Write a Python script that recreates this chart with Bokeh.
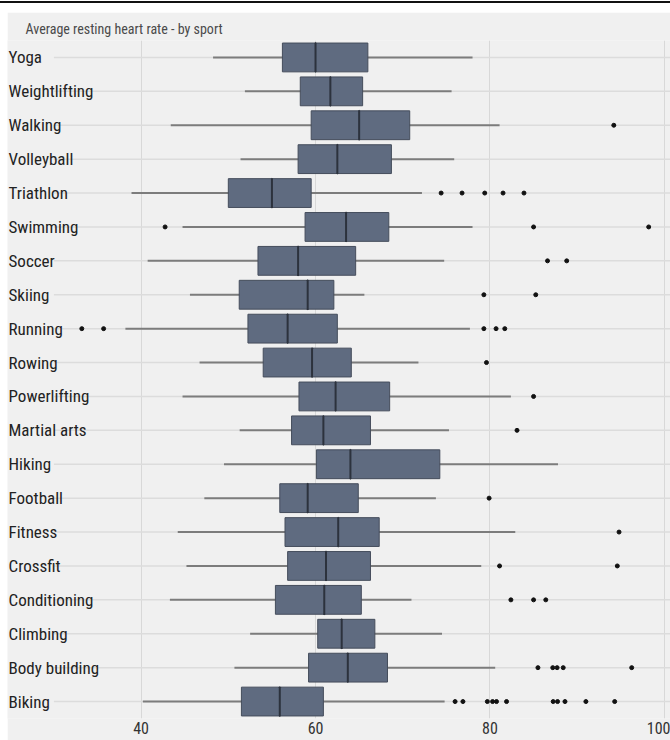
from bokeh.plotting import figure
from bokeh.models import (ColumnDataSource, FactorRange, Range1d, FixedTicker,
                          LabelSet, Div)
from bokeh.core.properties import value
from bokeh.layouts import column
from bokeh.embed import file_html
from bokeh.resources import INLINE

# Sports, listed bottom-to-top on the chart
sports = ["Biking", "Body building", "Climbing", "Conditioning", "Crossfit",
          "Fitness", "Football", "Hiking", "Martial arts", "Powerlifting",
          "Rowing", "Running", "Skiing", "Soccer", "Swimming", "Triathlon",
          "Volleyball", "Walking", "Weightlifting", "Yoga"]

# Five-number summaries (bpm)
whisker_low = [40.2, 50.7, 52.5, 43.3, 45.2, 44.2, 47.25, 49.5, 51.3, 44.75,
               46.7, 38.2, 45.6, 40.75, 44.75, 38.9, 51.4, 43.4, 51.9, 48.25]
q1 = [51.5, 59.2, 60.25, 55.4, 56.8, 56.5, 55.9, 60.1, 57.25, 58.1,
      54.0, 52.25, 51.25, 53.4, 58.8, 50.0, 58.0, 59.5, 58.25, 56.2]
median = [55.9, 63.7, 63.0, 61.0, 61.2, 62.6, 59.1, 64.0, 60.9, 62.3,
          59.6, 56.8, 59.1, 58.0, 63.5, 55.0, 62.5, 65.0, 61.7, 60.0]
q3 = [60.9, 68.25, 66.8, 65.25, 66.3, 67.3, 64.9, 74.25, 66.3, 68.5,
      64.1, 62.5, 62.1, 64.6, 68.4, 59.5, 68.7, 70.8, 65.4, 66.0]
whisker_high = [74.8, 80.6, 74.5, 71.0, 79.0, 82.9, 73.8, 87.8, 75.3, 82.4,
                71.8, 77.7, 65.6, 74.75, 78.0, 72.2, 75.9, 81.1, 75.6, 78.0]

# Outlying observations
outlier_sport = (["Biking"] * 11 + ["Body building"] * 5 + ["Conditioning"] * 3
                 + ["Crossfit"] * 2 + ["Fitness", "Football", "Martial arts",
                                       "Powerlifting", "Rowing"]
                 + ["Running"] * 5 + ["Skiing"] * 2 + ["Soccer"] * 2
                 + ["Swimming"] * 3 + ["Triathlon"] * 5 + ["Walking"])
outlier_value = ([76.0, 76.9, 79.7, 80.3, 80.75, 81.9, 87.25, 87.75, 88.6, 91.0, 94.3]
                 + [85.5, 87.2, 87.7, 88.4, 96.25]
                 + [82.4, 85.0, 86.4]
                 + [81.1, 94.6]
                 + [94.8, 79.9, 83.1, 85.0, 79.6]
                 + [33.2, 35.7, 79.3, 80.7, 81.7]
                 + [79.3, 85.25]
                 + [86.6, 88.8]
                 + [42.75, 85.0, 98.2]
                 + [74.4, 76.8, 79.4, 81.5, 83.9]
                 + [94.2])

x_ticks = [40, 60, 80, 100]

FONT = "Liberation Sans Narrow, Roboto Condensed, Arial Narrow, sans-serif"
BG = "#f0f0f0"

# the plotting area starts at the panel's left edge so the sport names
# can sit inside it; row rules begin at x = 30
X_START, GRID_START, X_END = 24.68, 30, 100.7

src = ColumnDataSource(dict(sport=sports, lo=whisker_low, q1=q1, med=median,
                            q3=q3, hi=whisker_high,
                            g0=[GRID_START] * len(sports),
                            g1=[X_END] * len(sports),
                            lx=[X_START + 0.12] * len(sports)))
out_src = ColumnDataSource(dict(sport=outlier_sport, value=outlier_value))

p = figure(width=663, height=728, output_backend="svg", toolbar_location=None,
           y_range=FactorRange(*sports, range_padding=0),
           x_range=Range1d(X_START, X_END),
           min_border_left=0, min_border_right=0, min_border_top=28,
           min_border_bottom=22, margin=(9, 0, 0, 7))
p.background_fill_color = BG
p.border_fill_color = BG
p.outline_line_color = None

# row rules
p.segment(x0="g0", y0="sport", x1="g1", y1="sport", source=src,
          line_color="#dcdcdc", line_width=1.5)
# whiskers (behind the boxes)
p.segment(x0="lo", y0="sport", x1="hi", y1="sport", source=src,
          line_color="#7c7c7c", line_width=2)
# boxes
p.hbar(y="sport", left="q1", right="q3", height=0.85, source=src,
       fill_color="#5f6b80", line_color="#454d5c", line_width=1)
# medians
p.rect(x="med", y="sport", width=0.001, height=0.85, source=src,
       line_color="#2c323d", line_width=2, fill_color=None)
# outliers
p.scatter(x="value", y="sport", source=out_src, size=4, color="#111111")

# axes
p.yaxis.visible = False
p.ygrid.grid_line_color = None
p.xaxis.ticker = FixedTicker(ticks=x_ticks)
p.xaxis.axis_line_color = None
p.xaxis.major_tick_line_color = None
p.xaxis.minor_tick_line_color = None
p.xaxis.major_tick_out = 0
p.xaxis.major_tick_in = 0
p.xaxis.major_label_standoff = 3
p.xaxis.major_label_text_font = FONT
p.xaxis.major_label_text_font_size = "16px"
p.xaxis.major_label_text_color = "#333333"

p.xgrid.grid_line_color = "#d8d8d8"
p.xgrid.grid_line_width = 1

# sport names at the left edge
p.add_layout(LabelSet(x="lx", y="sport", text="sport", source=src,
                      text_font=value(FONT), text_font_size=value("17px"),
                      text_color="#222222", text_align="left",
                      text_baseline="middle"))

p.title.text = "Average resting heart rate - by sport"
p.title.align = "left"
p.title.offset = 18
p.title.standoff = 7
p.title.text_font = FONT
p.title.text_font_size = "14px"
p.title.text_font_style = "normal"
p.title.text_color = "#4a4a4a"

rule = Div(width=670, height=2, margin=(1, 0, 0, 0),
           styles={"background-color": "#111111"})

layout = column(rule, p, spacing=0)
open("out.html", "w").write(file_html(layout, INLINE))
